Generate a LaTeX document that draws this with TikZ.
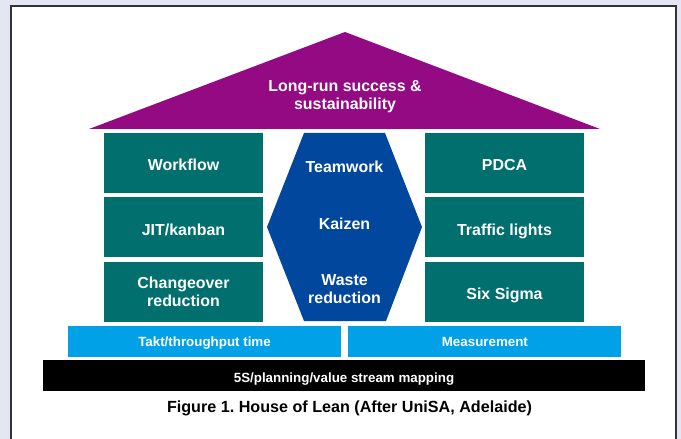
\documentclass[tikz,border=0pt]{standalone}
\usepackage{fontspec}
\setmainfont{Liberation Sans}
\usetikzlibrary{positioning}
\definecolor{ALavender}{HTML}{E4E7F2}
\definecolor{AFrame}{HTML}{333333}
\definecolor{APurple}{HTML}{930A83}
\definecolor{ATeal}{HTML}{006F6D}
\definecolor{ABlue}{HTML}{00479D}
\definecolor{ASky}{HTML}{00A1E6}
\tikzset{
    pillar/.style = {fill=ATeal, text=white, inner sep=0pt,
        minimum height=60bp, minimum width=159bp, align=center,
        font=\bfseries\fontsize{16}{18}\selectfont},
    oneline/.style = {text height=15.5bp, text depth=0pt},
    beam/.style = {fill=ASky, text=white, inner sep=0pt,
        minimum height=31bp, minimum width=273bp,
        text height=9.6bp, text depth=0pt,
        font=\bfseries\fontsize{13.4}{15}\selectfont},
    footing/.style = {beam, fill=black, minimum width=601bp,
        text height=13.6bp},
    hexlabel/.style = {text=white, align=center,
        font=\bfseries\fontsize{16}{18}\selectfont}
}

\begin{document}
\begin{tikzpicture}[x=1bp, y=-1bp, node distance=4bp]
    \useasboundingbox (0,0) rectangle (681,439);
    \fill [ALavender] (0,0) rectangle (681,439);
    \draw [AFrame, line width=2bp, fill=white] (11,6) rectangle (676,460);
    \fill [APurple] (89,129) -- (345,32) -- (600,129) -- cycle;
    \node [hexlabel] (roof) at (345,97) {Long-run success \&\\sustainability};
    \node [pillar, oneline] (workflow) at (183.5,163) {Workflow};
    \node [pillar, oneline, below=of workflow] (jit) {JIT/kanban};
    \node [pillar, below=of jit] (changeover) {Changeover\\reduction};
    \node [pillar, oneline] (pdca) at (504.5,163) {PDCA};
    \node [pillar, oneline, below=of pdca] (traffic) {Traffic lights};
    \node [pillar, oneline, below=of traffic] (sixsigma) {Six Sigma};
    \fill [ABlue] (267,227) -- (304,133) -- (385,133) -- (422,227) -- (386,321) -- (304,321) -- cycle;
    \node [hexlabel] (teamwork) at (344.5,167) {Teamwork};
    \node [hexlabel] (kaizen) at (344.5,223.5) {Kaizen};
    \node [hexlabel] (waste) at (344.5,289.5) {Waste\\reduction};
    \node [beam] (takt) at (204.5,341.5) {Takt/throughput time};
    \node [beam, right=7bp of takt] (measure) {Measurement};
    \node [footing] (fives) at (344,375.5) {5S/planning/value stream mapping};
    \node [font=\bfseries\fontsize{16.2}{18}\selectfont] (caption) at (349.5,408) {Figure 1.\ House of Lean (After UniSA, Adelaide)};
\end{tikzpicture}
\end{document}
